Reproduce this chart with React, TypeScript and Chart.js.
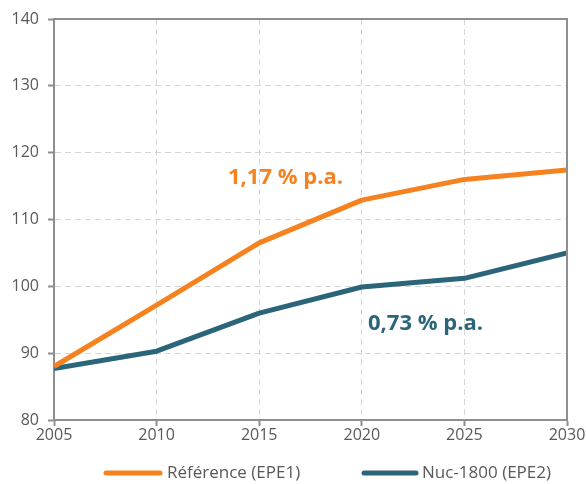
import React, { useEffect, useRef } from "react";
import { Chart, registerables } from "chart.js";

Chart.register(...registerables);

const years = [2005, 2010, 2015, 2020, 2025, 2030];
const referenceSeries = [88.0, 97.2, 106.5, 112.9, 116.0, 117.4];
const nucSeries = [87.7, 90.3, 96.0, 99.9, 101.2, 105.0];
const seriesLabels = ["Référence (EPE1)", "Nuc-1800 (EPE2)"];
const annotationTexts = ["1,17 % p.a.", "0,73 % p.a."];

const ORANGE = "#F5821F";
const TEAL = "#2A657A";
const AXIS = "#8e8e8e";
const GRID = "#d6d6d6";
const TEXT = "#595959";
const FONT = "'Open Sans', 'Noto Sans', sans-serif";

const overlayPlugin = {
  id: "overlay",
  afterDraw(chart: any) {
    const { ctx, chartArea, scales } = chart;
    ctx.save();
    // frame top and right
    ctx.strokeStyle = AXIS;
    ctx.lineWidth = 2;
    ctx.beginPath();
    ctx.moveTo(chartArea.left - 1, chartArea.top);
    ctx.lineTo(chartArea.right, chartArea.top);
    ctx.lineTo(chartArea.right, chartArea.bottom);
    ctx.stroke();

    // annotations
    ctx.font = `bold 22px ${FONT}`;
    ctx.textBaseline = "alphabetic";
    ctx.textAlign = "left";
    ctx.fillStyle = ORANGE;
    ctx.fillText(annotationTexts[0], scales.x.getPixelForValue(2013.48), scales.y.getPixelForValue(115.3));
    ctx.fillStyle = TEAL;
    ctx.fillText(annotationTexts[1], scales.x.getPixelForValue(2020.3), scales.y.getPixelForValue(93.47));

    // legend
    const items = [
      { x0: 106, x1: 160, tx: 167, color: ORANGE, label: seriesLabels[0] },
      { x0: 364, x1: 416, tx: 422, color: TEAL, label: seriesLabels[1] },
    ];
    const ly = 473;
    ctx.font = `17px ${FONT}`;
    ctx.textBaseline = "middle";
    items.forEach((it) => {
      ctx.strokeStyle = it.color;
      ctx.lineWidth = 5;
      ctx.lineCap = "round";
      ctx.beginPath();
      ctx.moveTo(it.x0, ly);
      ctx.lineTo(it.x1, ly);
      ctx.stroke();
      ctx.fillStyle = TEXT;
      ctx.fillText(it.label, it.tx, ly);
    });
    ctx.restore();
  },
};

export default function App() {
  const ref = useRef<HTMLCanvasElement | null>(null);
  useEffect(() => {
    if (!ref.current) return;
    const chart = new Chart(ref.current, {
      type: "line",
      data: {
        datasets: [
          {
            label: seriesLabels[0],
            data: years.map((y, i) => ({ x: y, y: referenceSeries[i] })),
            borderColor: ORANGE,
            backgroundColor: ORANGE,
            borderWidth: 5,
            pointRadius: 0,
            tension: 0,
            borderCapStyle: "butt",
            borderJoinStyle: "round",
          },
          {
            label: seriesLabels[1],
            data: years.map((y, i) => ({ x: y, y: nucSeries[i] })),
            borderColor: TEAL,
            backgroundColor: TEAL,
            borderWidth: 5,
            pointRadius: 0,
            tension: 0,
            borderCapStyle: "butt",
            borderJoinStyle: "round",
          },
        ],
      },
      options: {
        animation: false,
        responsive: false,
        maintainAspectRatio: false,
        layout: { padding: { top: 19, right: 19, left: 0, bottom: 0 } },
        plugins: { legend: { display: false }, tooltip: { enabled: false } },
        scales: {
          x: {
            type: "linear",
            min: 2005,
            max: 2030,
            ticks: {
              stepSize: 5,
              color: TEXT,
              font: { family: FONT, size: 16 },
              padding: 0,
              maxRotation: 0,
              callback: (v: any) => String(v),
            },
            grid: {
              color: GRID,
              lineWidth: 1,
              drawTicks: true,
              tickLength: 6,
              tickColor: AXIS,
              tickWidth: 2,
            },
            border: { display: true, color: AXIS, width: 2, dash: [6, 4] },
            afterFit(scale: any) {
              scale.height = 64;
            },
          },
          y: {
            min: 80,
            max: 140,
            ticks: {
              stepSize: 10,
              color: TEXT,
              font: { family: FONT, size: 16 },
              padding: 9,
            },
            grid: {
              color: GRID,
              lineWidth: 1,
              drawTicks: true,
              tickLength: 6,
              tickColor: AXIS,
              tickWidth: 2,
            },
            border: { display: true, color: AXIS, width: 2, dash: [6, 4] },
            afterFit(scale: any) {
              scale.width = 54;
            },
          },
        },
      },
      plugins: [overlayPlugin],
    } as any);
    return () => chart.destroy();
  }, []);
  return (
    <div style={{ position: "fixed", left: 0, top: 0, width: 586, height: 484, background: "#fff" }}>
      <canvas ref={ref} width={586} height={484} style={{ width: 586, height: 484 }} />
    </div>
  );
}
